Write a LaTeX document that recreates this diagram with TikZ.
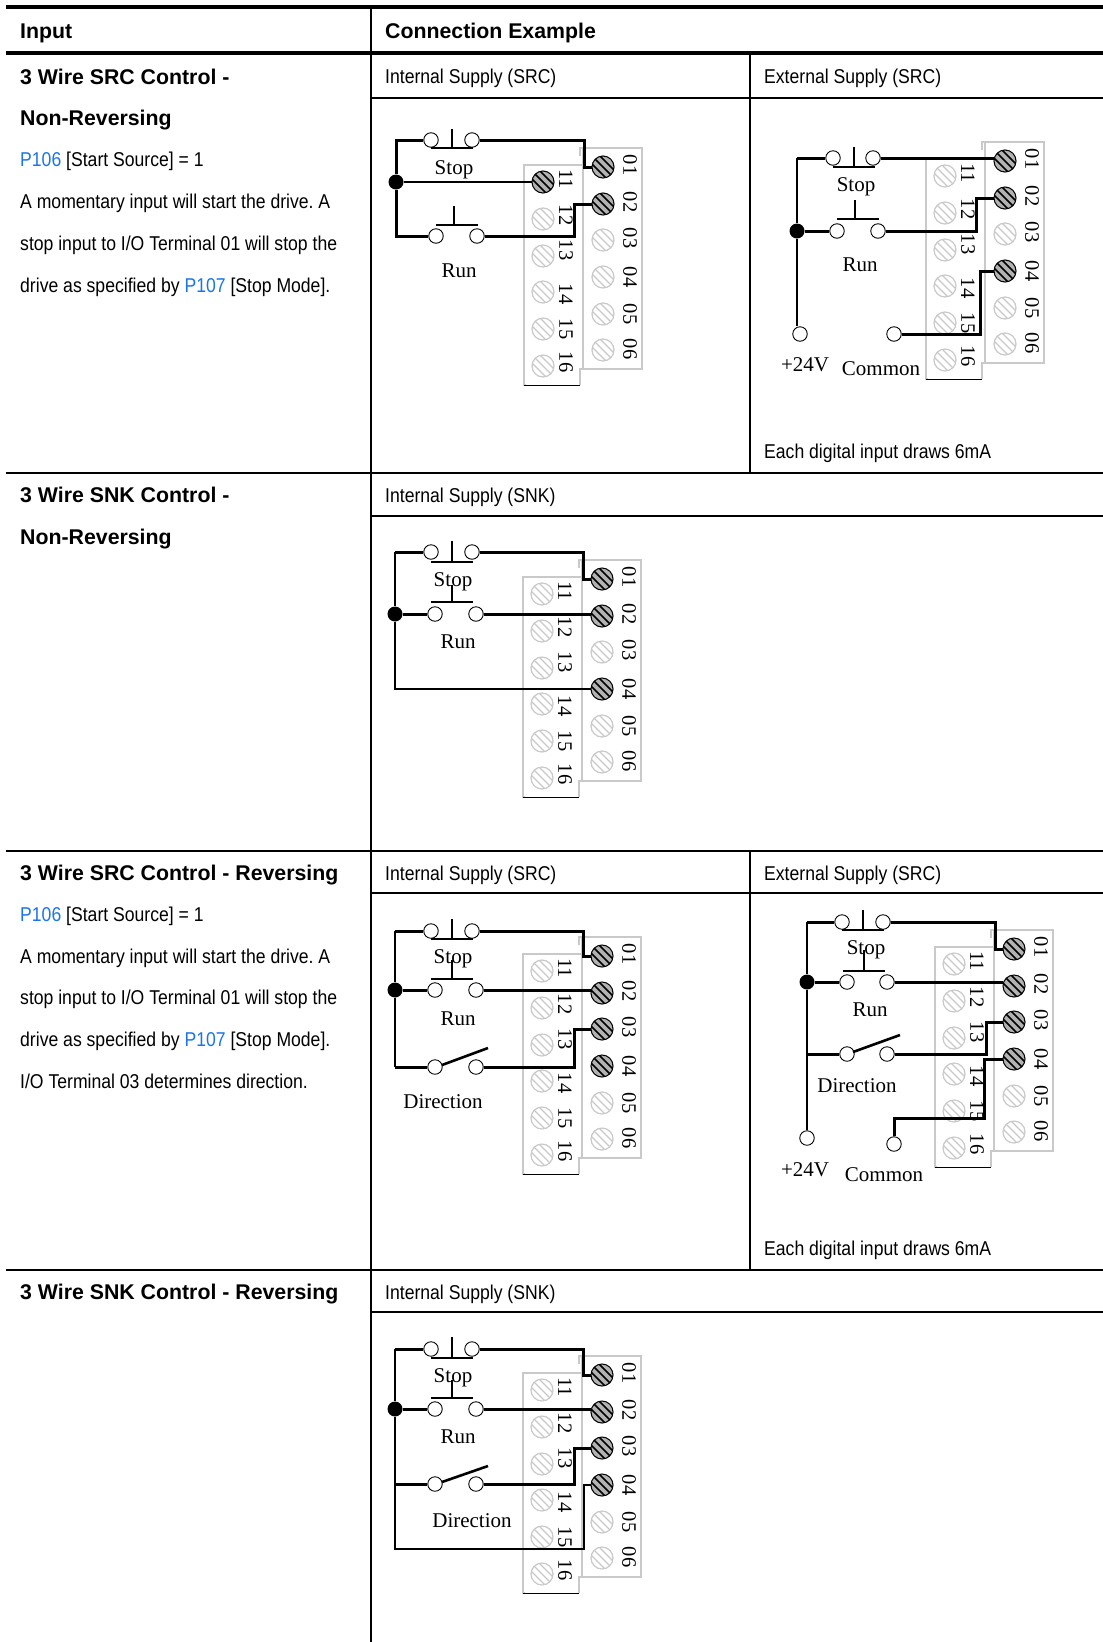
\documentclass[tikz,border=0pt]{standalone}
\usepackage{fontspec}
\setmainfont{Liberation Sans}
\newfontfamily\narrowfont[FakeStretch=0.88]{Liberation Sans}
\newfontfamily\diagfont{Liberation Serif}

\definecolor{paramblue}{RGB}{26,117,232}
\newcommand{\bodyfont}{\narrowfont\frenchspacing\fontsize{20}{24}\selectfont}
\newcommand{\boldfont}{\bfseries\fontsize{21.3}{24}\selectfont}
\newcommand{\labelfont}{\diagfont\fontsize{21}{24}\selectfont}

% three stripes across a screw head
\newcommand{\screwlines}[2]{%
  \foreach \k in {-4,0,4}
    \draw[#1,line width=#2,shift={(path picture bounding box.center)}]
      (\k-11,-\k-11) -- (\k+11,-\k+11);}

% terminal block: x offset, y offset, screws in use
\newcommand{\termblock}[3]{%
  \begin{scope}[shift={(#1,#2)}]
    \draw[blockline] (580,156) -- (580,148) -- (642,148) -- (642,369) -- (580,369) -- (580,385);
    \draw[blockline] (526,385) -- (524,385) -- (524,165) -- (583,165);
    \draw[blockline] (583,148) -- (583,369);
    \draw[line width=1pt] (524,385) -- (580,385);
    \foreach \n/\sy/\ly in {11/182/179,12/219/215,13/256/250,14/292/294,15/329/329,16/366/362}{
      \node[termoff] (t\n) at (543,\sy) {};
      \node[termnum] (n\n) at (566,\ly) {\n};
    }
    \foreach \n/\sy/\ly in {01/167/165,02/204/202,03/240/238,04/277/277,05/314/314,06/350/349}{
      \node[termoff] (t\n) at (603,\sy) {};
      \node[termnum] (n\n) at (630,\ly) {\n};
    }
    \foreach \n in {#3}
      \node[termon] (t\n) at (t\n) {};
  \end{scope}}

\begin{document}
\begin{tikzpicture}[
      x=1pt, y=-1pt,
      wire/.style     ={line width=3pt, line join=miter},
      thinwire/.style ={line width=1.6pt},
      bar/.style      ={line width=1.3pt},
      blade/.style    ={line width=2.6pt},
      heavyrule/.style={line width=4.8pt},
      midrule/.style  ={line width=2pt},
      blockline/.style={draw=gray!42, line width=1.4pt},
      contact/.style  ={circle, draw, fill=white, line width=0.9pt,
                        minimum size=14.5pt, inner sep=0pt},
      jointdot/.style ={circle, fill=black, minimum size=15pt, inner sep=0pt},
      termoff/.style  ={circle, draw=gray!42, fill=white, line width=1.2pt,
                        minimum size=22pt, inner sep=0pt,
                        path picture={\screwlines{gray!42}{1.3pt}}},
      termon/.style   ={circle, draw=black, fill=gray!60, line width=1pt,
                        minimum size=22pt, inner sep=0pt,
                        path picture={\screwlines{black}{1.7pt}}},
      termnum/.style  ={rotate=-90, inner sep=0pt, font=\diagfont\fontsize{20.5}{24}\selectfont},
      difflabel/.style={inner sep=0pt, font=\labelfont},
      plaintext/.style={anchor=base west, inner sep=0pt, font=\bodyfont},
      headtext/.style ={anchor=base west, inner sep=0pt, font=\boldfont}
    ]
    \useasboundingbox (0,0) rectangle (1103,1642);

    % table rules
    \draw[heavyrule] (6,7) -- (1103,7);
    \draw[heavyrule] (6,53) -- (1103,53);
    \draw[midrule] (6,473) -- (1103,473);
    \draw[midrule] (6,851) -- (1103,851);
    \draw[midrule] (6,1270) -- (1103,1270);
    \draw[midrule] (371,7) -- (371,1642);
    \draw[midrule] (750,53) -- (750,473);
    \draw[midrule] (750,851) -- (750,1270);
    \draw[midrule] (371,98) -- (1103,98);
    \draw[midrule] (371,516) -- (1103,516);
    \draw[midrule] (371,893) -- (1103,893);
    \draw[midrule] (371,1312) -- (1103,1312);

    % header
    \node[headtext] (inhead) at (20,38) {Input};
    \node[headtext] (conhead) at (385,38) {Connection Example};

    % left column
    \node[headtext] (titlea) at (20,84) {3 Wire SRC Control -};
    \node[headtext] (titleb) at (20,125) {Non-Reversing};
    \node[plaintext] (texta) at (20,166) {\textcolor{paramblue}{P106} [Start Source] = 1};
    \node[plaintext] (textb) at (20,208) {A momentary input will start the drive. A};
    \node[plaintext] (textc) at (20,250) {stop input to I/O Terminal 01 will stop the};
    \node[plaintext] (textd) at (20,292) {drive as specified by \textcolor{paramblue}{P107} [Stop Mode].};

    \node[headtext] (titlec) at (20,502) {3 Wire SNK Control -};
    \node[headtext] (titled) at (20,544) {Non-Reversing};

    \node[headtext] (titlee) at (20,880) {3 Wire SRC Control - Reversing};
    \node[plaintext] (texte) at (20,921) {\textcolor{paramblue}{P106} [Start Source] = 1};
    \node[plaintext] (textf) at (20,963) {A momentary input will start the drive. A};
    \node[plaintext] (textg) at (20,1004) {stop input to I/O Terminal 01 will stop the};
    \node[plaintext] (texth) at (20,1046) {drive as specified by \textcolor{paramblue}{P107} [Stop Mode].};
    \node[plaintext] (texti) at (20,1088) {I/O Terminal 03 determines direction.};

    \node[headtext] (titlef) at (20,1299) {3 Wire SNK Control - Reversing};

    % column captions
    \node[plaintext] (capa) at (385,83) {Internal Supply (SRC)};
    \node[plaintext] (capb) at (764,83) {External Supply (SRC)};
    \node[plaintext] (capc) at (764,458) {Each digital input draws 6mA};
    \node[plaintext] (capd) at (385,502) {Internal Supply (SNK)};
    \node[plaintext] (cape) at (385,880) {Internal Supply (SRC)};
    \node[plaintext] (capf) at (764,880) {External Supply (SRC)};
    \node[plaintext] (capg) at (764,1255) {Each digital input draws 6mA};
    \node[plaintext] (caph) at (385,1299) {Internal Supply (SNK)};

    % SRC, internal
    \begin{scope}[name prefix=a-]
      \termblock{0}{0}{01,02,11}
      \node[contact] (stopl) at (431,140) {};
      \node[contact] (stopr) at (472,140) {};
      \node[contact] (runl) at (436,236) {};
      \node[contact] (runr) at (477,236) {};
      \node[jointdot] (joint) at (396,182) {};
      \draw[wire] (stopl) -| (joint) |- (runl);
      \draw[wire] (stopr) -| (584,150) |- (t01);
      \draw[wire] (runr) -| (574,210) |- (t02);
      \draw[thinwire] (joint) -- (joint -| t11.west);
      \draw[bar] (431,148) -- (473,148) (452,129) -- (452,148);
      \draw[bar] (436,225) -- (478,225) (454,206) -- (454,225);
      \node[difflabel] (stoplabel) at (454,170) {Stop};
      \node[difflabel] (runlabel) at (459,271) {Run};
    \end{scope}

    % SRC, external
    \begin{scope}[name prefix=b-]
      \termblock{402}{-6}{01,02,04}
      \node[contact] (stopl) at (833,158) {};
      \node[contact] (stopr) at (873,158) {};
      \node[contact] (runl) at (837,231) {};
      \node[contact] (runr) at (878,231) {};
      \node[jointdot] (joint) at (797,231) {};
      \node[contact] (plusv) at (800,334) {};
      \node[contact] (comm) at (894,334) {};
      \draw[wire] (stopl) -- (stopl -| joint);
      \draw[thinwire] (stopl -| joint) -- (joint);
      \draw[thinwire] (joint) -- (joint |- plusv.north);
      \draw[wire] (joint) -- (runl);
      \draw[wire] (stopr) -- (stopr -| t01.west);
      \draw[wire] (runr) -| (976,210) |- (t02);
      \draw[wire] (comm) -| (980,300) |- (t04);
      \draw[bar] (833,167) -- (875,167) (854,147) -- (854,167);
      \draw[bar] (837,219) -- (879,219) (855,200) -- (855,219);
      \node[difflabel] (stoplabel) at (856,187) {Stop};
      \node[difflabel] (runlabel) at (860,265) {Run};
      \node[difflabel] (pluslabel) at (805,365) {+24V};
      \node[difflabel] (commlabel) at (881,369) {Common};
    \end{scope}

    % SNK, internal
    \begin{scope}[name prefix=c-]
      \termblock{-1}{412}{01,02,04}
      \node[contact] (stopl) at (431,552) {};
      \node[contact] (stopr) at (472,552) {};
      \node[contact] (runl) at (435,614) {};
      \node[contact] (runr) at (476,614) {};
      \node[jointdot] (joint) at (395,614) {};
      \draw[wire] (stopl) -- (stopl -| joint);
      \draw[thinwire] (stopl -| joint) -- (joint);
      \draw[thinwire] (joint) |- (t04);
      \draw[wire] (joint) -- (runl);
      \draw[wire] (stopr) -| (583,565) |- (t01);
      \draw[wire] (runr) -- (runr -| t02.west);
      \draw[bar] (431,562) -- (473,562) (452,541) -- (452,562);
      \draw[bar] (431,602) -- (473,602) (452,585) -- (452,602);
      \node[difflabel] (stoplabel) at (453,582) {Stop};
      \node[difflabel] (runlabel) at (458,642) {Run};
    \end{scope}

    % SRC reversing, internal
    \begin{scope}[name prefix=d-]
      \termblock{-1}{789}{01,02,03,04}
      \node[contact] (stopl) at (431,931) {};
      \node[contact] (stopr) at (472,931) {};
      \node[contact] (runl) at (435,990) {};
      \node[contact] (runr) at (476,990) {};
      \node[contact] (dirl) at (435,1067) {};
      \node[contact] (dirr) at (476,1067) {};
      \node[jointdot] (joint) at (395,990) {};
      \draw[wire] (stopl) -- (stopl -| joint);
      \draw[thinwire] (stopl -| joint) -- (joint);
      \draw[thinwire] (joint) -- (joint |- dirl);
      \draw[wire] (joint |- dirl) -- (dirl);
      \draw[wire] (joint) -- (runl);
      \draw[wire] (stopr) -| (583,945) |- (t01);
      \draw[wire] (runr) -- (runr -| t02.west);
      \draw[wire] (dirr) -| (574,1045) |- (t03);
      \draw[bar] (431,939) -- (473,939) (452,919) -- (452,939);
      \draw[bar] (431,979) -- (473,979) (452,960) -- (452,979);
      \draw[blade] (442,1065) -- (488,1048);
      \node[difflabel] (stoplabel) at (453,959) {Stop};
      \node[difflabel] (runlabel) at (458,1019) {Run};
      \node[difflabel] (dirlabel) at (443,1102) {Direction};
    \end{scope}

    % SRC reversing, external
    \begin{scope}[name prefix=e-]
      \termblock{411}{782}{01,02,03,04}
      \node[contact] (stopl) at (842,922) {};
      \node[contact] (stopr) at (883,922) {};
      \node[contact] (runl) at (847,982) {};
      \node[contact] (runr) at (887,982) {};
      \node[contact] (dirl) at (847,1054) {};
      \node[contact] (dirr) at (887,1054) {};
      \node[jointdot] (joint) at (807,982) {};
      \node[contact] (plusv) at (807,1138) {};
      \node[contact] (comm) at (894,1144) {};
      \draw[wire] (stopl) -- (stopl -| joint);
      \draw[thinwire] (stopl -| joint) -- (joint);
      \draw[thinwire] (joint) -- (plusv);
      \draw[wire] (joint) -- (runl);
      \draw[wire] (joint |- dirl) -- (dirl);
      \draw[wire] (stopr) -| (995,935) |- (t01);
      \draw[wire] (runr) -- (runr -| t02.west);
      \draw[wire] (dirr) -| (986,1040) |- (t03);
      \draw[wire] (comm) |- (984,1118) |- (t04);
      \draw[bar] (842,930) -- (884,930) (863,910) -- (863,930);
      \draw[bar] (843,971) -- (885,971) (864,950) -- (864,971);
      \draw[blade] (853,1052) -- (900,1035);
      \node[difflabel] (stoplabel) at (866,950) {Stop};
      \node[difflabel] (runlabel) at (870,1010) {Run};
      \node[difflabel] (dirlabel) at (857,1086) {Direction};
      \node[difflabel] (pluslabel) at (805,1170) {+24V};
      \node[difflabel] (commlabel) at (884,1175) {Common};
    \end{scope}

    % SNK reversing, internal
    \begin{scope}[name prefix=f-]
      \termblock{-1}{1208}{01,02,03,04}
      \node[contact] (stopl) at (431,1349) {};
      \node[contact] (stopr) at (472,1349) {};
      \node[contact] (runl) at (435,1409) {};
      \node[contact] (runr) at (476,1409) {};
      \node[contact] (dirl) at (435,1484) {};
      \node[contact] (dirr) at (476,1484) {};
      \node[jointdot] (joint) at (395,1409) {};
      \draw[wire] (stopl) -- (stopl -| joint);
      \draw[thinwire] (stopl -| joint) -- (joint);
      \draw[thinwire] (joint) |- (584,1549) |- (t04);
      \draw[wire] (joint) -- (runl);
      \draw[wire] (joint |- dirl) -- (dirl);
      \draw[wire] (stopr) -| (583,1362) |- (t01);
      \draw[wire] (runr) -- (runr -| t02.west);
      \draw[wire] (dirr) -| (574,1465) |- (t03);
      \draw[bar] (431,1358) -- (473,1358) (452,1337) -- (452,1358);
      \draw[bar] (431,1398) -- (473,1398) (452,1380) -- (452,1398);
      \draw[blade] (442,1482) -- (488,1466);
      \node[difflabel] (stoplabel) at (453,1378) {Stop};
      \node[difflabel] (runlabel) at (458,1437) {Run};
      \node[difflabel] (dirlabel) at (472,1521) {Direction};
    \end{scope}
\end{tikzpicture}
\end{document}
